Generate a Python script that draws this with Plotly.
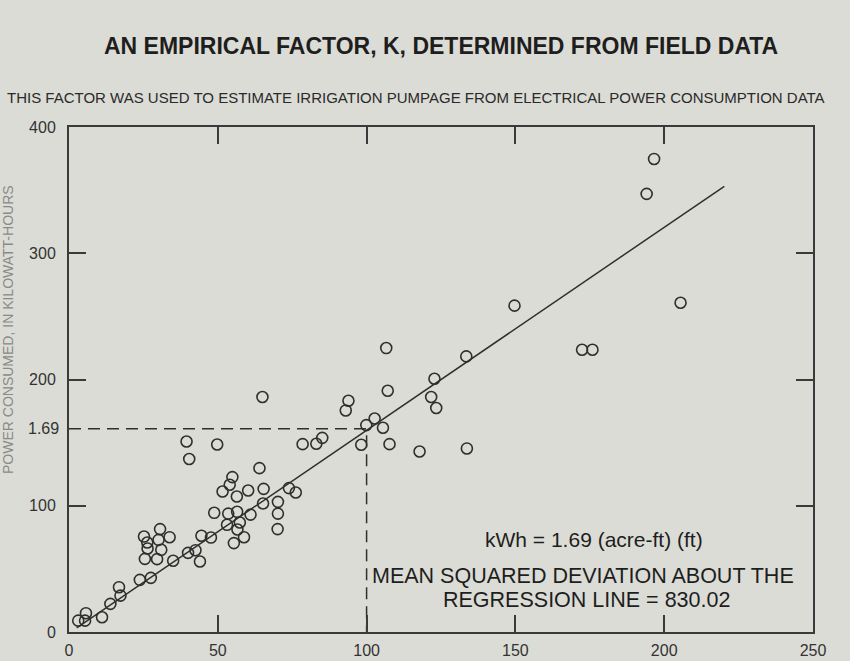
import plotly.graph_objects as go

# ---- data ----
acre_ft = [3.1, 5.4, 5.7, 11.1, 13.9, 16.8, 17.3, 23.8, 27.5, 25.2, 26.3, 26.4, 25.5,
           30.6, 30.1, 31.0, 29.6, 33.8, 35.0, 39.5, 40.4, 49.8, 40.0, 42.5, 44.0,
           44.5, 47.7, 48.8, 51.6, 54.0, 54.9, 56.4, 53.5, 56.5, 53.1, 57.4, 56.6,
           55.4, 58.8, 60.2, 61.0, 64.0, 65.4, 65.2, 65.0, 70.2, 70.2, 70.1, 73.9,
           76.2, 78.5, 83.1, 85.1, 106.6, 133.5, 172.4, 175.9, 122.8, 121.7, 123.4,
           107.1, 93.9, 93.0, 102.7, 99.9, 105.5, 98.2, 107.7, 117.8, 133.7, 149.7,
           205.5, 196.6, 194.1]
kwh = [9.0, 9.0, 14.9, 11.7, 22.3, 35.5, 28.8, 41.3, 42.9, 75.6, 70.9, 66.1, 57.9,
       81.5, 73.0, 65.1, 57.7, 75.1, 56.4, 150.9, 137.0, 148.5, 62.7, 64.8, 55.8,
       76.2, 74.8, 94.4, 111.3, 116.6, 122.7, 107.3, 93.8, 95.2, 84.9, 86.7, 81.2,
       70.4, 75.1, 112.1, 93.0, 129.8, 113.4, 101.8, 186.1, 103.1, 93.8, 81.5, 114.0,
       110.5, 148.8, 149.1, 153.8, 224.9, 218.3, 223.6, 223.6, 200.6, 186.1, 177.4,
       191.1, 183.2, 175.5, 169.1, 163.9, 161.8, 148.3, 148.8, 143.0, 145.4, 258.5,
       260.8, 374.7, 347.0]

reg_x = [2.6, 220.2]
reg_y = [3.2, 353.0]

k_x = 100
k_y = 161

x_ticks = [0, 50, 100, 150, 200, 250]
y_ticks = [0, 100, 200, 300, 400]

title = "AN EMPIRICAL FACTOR, K, DETERMINED FROM FIELD DATA"
subtitle = "THIS FACTOR WAS USED TO ESTIMATE IRRIGATION PUMPAGE FROM ELECTRICAL POWER CONSUMPTION DATA"
y_title = "POWER CONSUMED, IN KILOWATT-HOURS"
k_label = "1.69"
eq_text = "kWh = 1.69 (acre-ft) (ft)"
msd_line1 = "MEAN SQUARED DEVIATION ABOUT THE"
msd_line2 = "REGRESSION LINE = 830.02"

BG = "#dcdcd6"
INK = "#2f2f2f"
NARROW = "Liberation Sans Narrow, Arial Narrow, Liberation Sans, Arial, sans-serif"
SANS = "Liberation Sans, Arial, sans-serif"

fig = go.Figure()

# dashed guide lines
fig.add_trace(go.Scatter(x=[0, k_x, k_x], y=[k_y, k_y, 0], mode="lines",
                         line=dict(color=INK, width=1.5, dash="12px,7px"),
                         hoverinfo="skip", showlegend=False))
# regression line
fig.add_trace(go.Scatter(x=reg_x, y=reg_y, mode="lines",
                         line=dict(color=INK, width=1.5),
                         hoverinfo="skip", showlegend=False))
# observations
fig.add_trace(go.Scatter(x=acre_ft, y=kwh, mode="markers",
                         marker=dict(symbol="circle-open", size=11,
                                     color=INK, line=dict(width=1.6, color=INK)),
                         showlegend=False))

axis_common = dict(showgrid=False, zeroline=False, showline=True, linecolor="#3a3a3a",
                   linewidth=2, mirror="allticks", ticks="inside", ticklen=17,
                   tickwidth=1.5, tickcolor="#3a3a3a", automargin=False,
                   tickfont=dict(family=NARROW, size=16, color="#333"))

fig.update_xaxes(range=[0, 250], tickvals=x_ticks, ticklabelstandoff=3, **axis_common)
fig.update_yaxes(range=[0, 400], tickvals=y_ticks, ticklabelstandoff=8, **axis_common)

annotations = [
    dict(text=title, xref="paper", yref="paper", x=0.50, y=1.16, xanchor="center",
         yanchor="middle", showarrow=False,
         font=dict(family=SANS, size=23, color="#1e1e1e", weight="bold")),
    dict(text=subtitle, xref="paper", yref="paper", x=-0.086, y=1.059, xanchor="left",
         yanchor="middle", showarrow=False,
         font=dict(family=NARROW, size=15, color="#2a2a2a")),
    dict(text=y_title, xref="paper", yref="paper", x=-0.082, y=0.60, xanchor="center",
         yanchor="middle", textangle=-90, showarrow=False,
         font=dict(family=NARROW, size=14, color="#8a8a8a")),
    dict(text=k_label, xref="paper", yref="y", x=0, y=k_y, xanchor="right",
         yanchor="middle", xshift=-8, showarrow=False,
         font=dict(family=NARROW, size=16, color="#333")),
    dict(text=eq_text, xref="x", yref="y", x=176.5, y=73, xanchor="center",
         yanchor="middle", showarrow=False,
         font=dict(family=SANS, size=21, color="#1e1e1e")),
    dict(text=msd_line1, xref="x", yref="y", x=172.7, y=44.5, xanchor="center",
         yanchor="middle", showarrow=False,
         font=dict(family=SANS, size=21.5, color="#1e1e1e")),
    dict(text=msd_line2, xref="x", yref="y", x=174.0, y=25.5, xanchor="center",
         yanchor="middle", showarrow=False,
         font=dict(family=SANS, size=21.5, color="#1e1e1e")),
]

fig.update_layout(width=850, height=661, paper_bgcolor=BG, plot_bgcolor=BG,
                  margin=dict(l=69, r=37, t=127, b=29, autoexpand=False),
                  annotations=annotations, showlegend=False)

fig.write_html("out.html", config={"displayModeBar": False},
               post_script="document.body.style.margin='0';"
                           "document.body.style.overflow='hidden';"
                           "document.body.style.background='#dcdcd6';")
